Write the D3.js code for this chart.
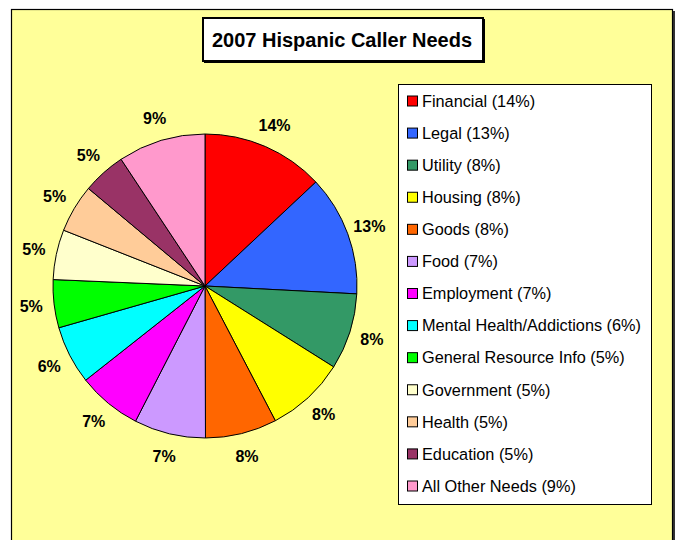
<!DOCTYPE html>
<html>
<head>
<meta charset="utf-8">
<script src="https://cdn.jsdelivr.net/npm/d3@7"></script>
<style>
  body { margin: 0; background: #ffffff; }
  svg { display: block; font-family: Arial, "Liberation Sans", sans-serif; }
</style>
</head>
<body>
<div id="chart"></div>
<script>
const categories = ["Financial", "Legal", "Utility", "Housing", "Goods", "Food", "Employment",
    "Mental Health/Addictions", "General Resource Info", "Government", "Health", "Education", "All Other Needs"];
// slice sizes (percent of the circle)
const sliceValues = [13.0, 12.8, 8.1, 8.4, 7.6, 7.6, 6.8, 6.2, 5.1, 5.3, 5.1, 4.6, 9.3];
// percentages as printed on the chart
const pctLabels = [14, 13, 8, 8, 8, 7, 7, 6, 5, 5, 5, 5, 9];
const colors = ["#FF0000", "#3366FF", "#339966", "#FFFF00", "#FF6600", "#CC99FF", "#FF00FF",
    "#00FFFF", "#00FF00", "#FFFFCC", "#FFCC99", "#993366", "#FF99CC"];

const svgWidth = 678;
const svgHeight = 540;

const data = categories.map((c, i) => ({ name: c, value: sliceValues[i], pct: pctLabels[i], color: colors[i] }));

const svg = d3.select("#chart")
    .append("svg")
    .attr("width", svgWidth)
    .attr("height", svgHeight);

// chart area with shadow
svg.append("rect")
    .attr("x", 13).attr("y", 11)
    .attr("width", 662).attr("height", 560)
    .attr("fill", "#333");
svg.append("rect")
    .attr("x", 11.5).attr("y", 9.5)
    .attr("width", 661).attr("height", 560)
    .attr("fill", "#FFFF99")
    .attr("stroke", "#000")
    .attr("stroke-width", 1.2);

// title box
svg.append("rect")
    .attr("x", 204).attr("y", 19)
    .attr("width", 281).attr("height", 44)
    .attr("fill", "#000");
svg.append("rect")
    .attr("x", 203).attr("y", 18)
    .attr("width", 280).attr("height", 43)
    .attr("fill", "#fff")
    .attr("stroke", "#000")
    .attr("stroke-width", 2);
svg.append("text")
    .attr("x", 342).attr("y", 47)
    .attr("text-anchor", "middle")
    .attr("font-weight", "bold")
    .attr("font-size", "20px")
    .attr("fill", "#000")
    .text("2007 Hispanic Caller Needs");

// pie
const cx = 205, cy = 286, radius = 152;
const pie = d3.pie().sort(null).value(d => d.value);
const arc = d3.arc().innerRadius(0).outerRadius(radius);
const labelArc = d3.arc().innerRadius(175).outerRadius(175);

const g = svg.append("g").attr("transform", "translate(" + cx + "," + cy + ")");
const arcs = pie(data);

g.selectAll("path.slice")
    .data(arcs)
    .enter()
    .append("path")
    .attr("class", "slice")
    .attr("d", arc)
    .attr("fill", d => d.data.color)
    .attr("stroke", "#000")
    .attr("stroke-width", 1)
    .attr("stroke-linejoin", "round");

g.selectAll("text.pct")
    .data(arcs)
    .enter()
    .append("text")
    .attr("class", "pct")
    .attr("transform", d => "translate(" + labelArc.centroid(d) + ")")
    .attr("text-anchor", "middle")
    .attr("dy", "0.36em")
    .attr("font-weight", "bold")
    .attr("font-size", "16px")
    .attr("fill", "#000")
    .text(d => d.data.pct + "%");

// legend
const legend = svg.append("g").attr("class", "legend");
legend.append("rect")
    .attr("x", 398.5).attr("y", 84.5)
    .attr("width", 253).attr("height", 420)
    .attr("fill", "#fff")
    .attr("stroke", "#000")
    .attr("stroke-width", 1);

const ly = d3.scalePoint().domain(categories).range([101, 486]);

const items = legend.selectAll("g.item")
    .data(data)
    .enter()
    .append("g")
    .attr("class", "item")
    .attr("transform", d => "translate(0," + ly(d.name) + ")");

items.append("rect")
    .attr("x", 407.5).attr("y", -5)
    .attr("width", 10).attr("height", 10)
    .attr("fill", d => d.color)
    .attr("stroke", "#000")
    .attr("stroke-width", 1);

items.append("text")
    .attr("x", 422)
    .attr("y", 5.8)
    .attr("font-size", "16.3px")
    .attr("fill", "#000")
    .text(d => d.name + " (" + d.pct + "%)");
</script>
</body>
</html>
